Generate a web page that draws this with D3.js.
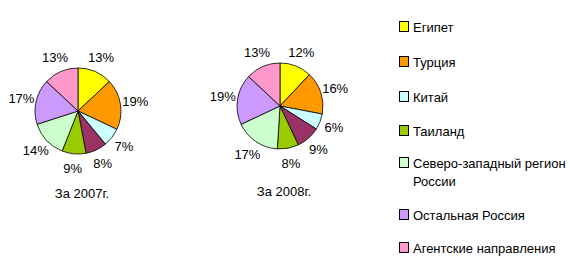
<!DOCTYPE html>
<html>
  <head>
    <meta charset="utf-8">
    <title>Направления продаж</title>
    <script src="https://cdn.jsdelivr.net/npm/d3@7/dist/d3.min.js"></script>
    <style>
        body { margin: 0; background: #fff; }
        svg { display: block; }
        svg text { font-family: "Liberation Sans", Arial, sans-serif; font-size: 13px; fill: #000; }
    </style>
  </head>
  <body>
    <div id="viz"></div>
    <script>
        // categories in slice order (clockwise from 12 o'clock)
        // the dark slice has no entry in the original legend
        var categories = ["Египет", "Турция", "Китай", null, "Таиланд",
                          "Северо-западный регион России", "Остальная Россия", "Агентские направления"];
        var colors = ["#ffff00", "#ff9900", "#ccffff", "#993366", "#99cc00", "#ccffcc", "#cc99ff", "#ff99cc"];
        var values2007 = [13, 19, 7, 8, 9, 14, 17, 13];
        var values2008 = [12, 16, 6, 9, 8, 17, 19, 13];
        var years = ["За 2007г.", "За 2008г."];

        var svg = d3.select("#viz").append("svg")
            .attr("width", 570)
            .attr("height", 274);

        var pie = d3.pie().sort(null);
        var arc = d3.arc().innerRadius(0).outerRadius(43);
        var labelArc = d3.arc().innerRadius(58).outerRadius(58);

        // draw one pie with its percent labels and the year caption below
        function drawPie(values, cx, cy, caption, captionY) {
            var g = svg.append("g").attr("transform", "translate(" + cx + "," + cy + ")");
            var arcs = pie(values);
            g.selectAll("path")
                .data(arcs)
                .enter().append("path")
                .attr("d", arc)
                .attr("fill", function(d, i) { return colors[i]; })
                .attr("stroke", "#000")
                .attr("stroke-width", 0.8);
            g.selectAll("text")
                .data(arcs)
                .enter().append("text")
                .attr("transform", function(d) { return "translate(" + labelArc.centroid(d) + ")"; })
                .attr("text-anchor", "middle")
                .attr("dy", "0.35em")
                .text(function(d) { return d.data + "%"; });
            svg.append("text")
                .attr("x", cx + 4)
                .attr("y", captionY)
                .attr("text-anchor", "middle")
                .text(caption);
        }

        drawPie(values2007, 78, 111, years[0], 198);
        drawPie(values2008, 280, 106, years[1], 196);

        // legend on the right
        var legendY = [27, 62, 97, 131, 163, 215, 248];
        var legend = svg.append("g");
        var row = 0;
        categories.forEach(function(name, i) {
            if (name === null) return;
            var y = legendY[row++];
            legend.append("rect")
                .attr("x", 399.5)
                .attr("y", y - 5.5)
                .attr("width", 9)
                .attr("height", 10)
                .attr("fill", colors[i])
                .attr("stroke", "#000")
                .attr("stroke-width", 1);
            var t = legend.append("text")
                .attr("x", 413)
                .attr("y", y + 4.5);
            if (name === "Северо-западный регион России") {
                t.append("tspan").text("Северо-западный регион");
                t.append("tspan").attr("x", 413).attr("dy", 18).text("России");
            } else {
                t.text(name);
            }
        });
    </script>
  </body>
</html>
